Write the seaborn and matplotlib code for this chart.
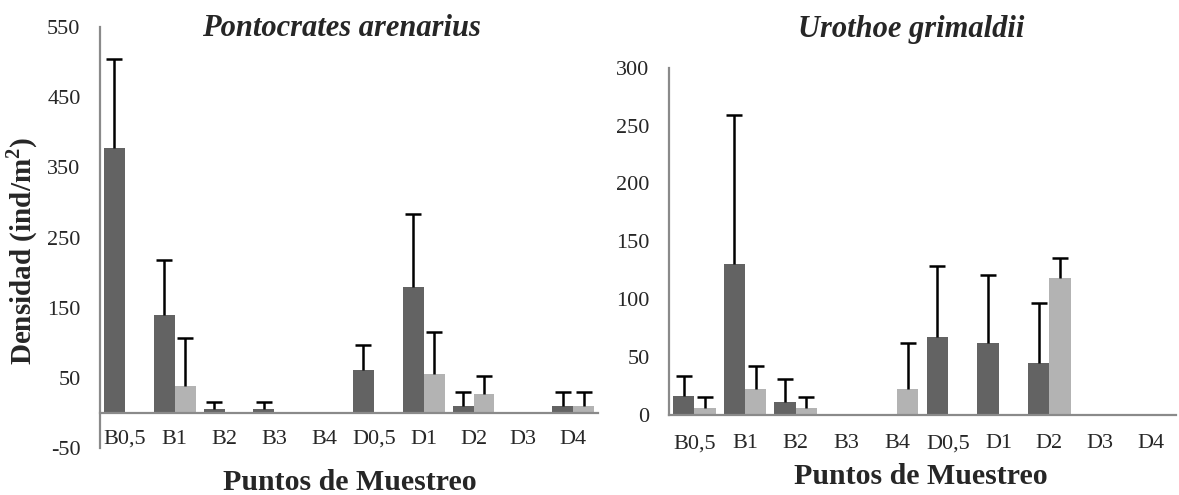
import numpy as np
import pandas as pd
import matplotlib
matplotlib.use("Agg")
import matplotlib.pyplot as plt
import seaborn as sns

categories = ["B0,5", "B1", "B2", "B3", "B4", "D0,5", "D1", "D2", "D3", "D4"]
series_names = ["Serie 1", "Serie 2"]

# Pontocrates arenarius
pa_dark = [378, 140, 5, 5, 0, 61, 180, 10, 0, 10]
pa_dark_err = [127, 78, 10, 10, 0, 36, 103, 20, 0, 20]
pa_light = [0, 39, 0, 0, 0, 0, 56, 27, 0, 10]
pa_light_err = [0, 68, 0, 0, 0, 0, 60, 26, 0, 20]

# Urothoe grimaldii
ug_dark = [16.6, 130, 11, 0, 0, 67.5, 62, 45, 0, 0]
ug_dark_err = [17, 129, 20, 0, 0, 61, 59, 52, 0, 0]
ug_light = [5.5, 22, 5.5, 0, 22, 0, 0, 118.5, 0, 0]
ug_light_err = [10, 20, 10, 0, 40, 0, 0, 17, 0, 0]

sns.set_style("white")
plt.rcParams['font.family'] = ['Liberation Serif', 'DejaVu Serif']
plt.rcParams['mathtext.fontset'] = 'custom'
plt.rcParams['mathtext.bf'] = 'Liberation Serif:bold'
plt.rcParams['mathtext.rm'] = 'Liberation Serif'

DARK = "#636363"
LIGHT = "#b3b3b3"
AXC = "#8a8a8a"

fig = plt.figure(figsize=(11.79, 4.95), dpi=100)
ax1 = fig.add_axes([100 / 1179, 0.095, 498 / 1179, 0.850])
ax2 = fig.add_axes([669 / 1179, 0.162, 507 / 1179, 0.701])


def draw(ax, dark, dark_err, light, light_err, ylim, yticks, xpad):
    df = pd.DataFrame({
        "cat": categories * 2,
        "serie": [series_names[0]] * len(categories) + [series_names[1]] * len(categories),
        "val": list(dark) + list(light),
    })
    sns.barplot(data=df, x="cat", y="val", hue="serie", order=categories,
                hue_order=series_names, palette=[DARK, LIGHT], width=0.84,
                gap=0, errorbar=None, ax=ax, legend=False, saturation=1,
                linewidth=0)
    # error bars (upper only, cap only at the top)
    bars = [p for p in ax.patches if p.get_width() > 0]
    n = len(categories)
    vals = list(dark) + list(light)
    errs = list(dark_err) + list(light_err)
    for p, v, e in zip(bars[:2 * n], vals, errs):
        if e > 0:
            xc = p.get_x() + p.get_width() / 2
            ax.vlines(xc, v, v + e, color="black", linewidth=1.8, zorder=3)
            ax.plot([xc], [v + e], marker="_", markersize=11,
                    markeredgewidth=1.8, color="black", zorder=3)
    ax.set_xlim(-0.5, len(categories) - 0.5)
    ax.set_ylim(*ylim)
    ax.set_yticks(yticks)
    ax.set_yticklabels([str(t) for t in yticks])
    ax.set_xticks(np.arange(len(categories) + 1) - 0.5)
    ax.set_xticklabels([])
    ax.set_xticks(np.arange(len(categories)), minor=True)
    ax.set_xticklabels(categories, minor=True)
    ax.tick_params(axis="x", which="minor", length=0, pad=xpad, labelsize=16)
    ax.tick_params(axis="x", which="major", direction="inout", length=10,
                   width=1.4, color=AXC)
    ax.tick_params(axis="y", direction="out", length=5, width=1.2, color=AXC,
                   pad=9, labelsize=16)
    ax.spines["top"].set_visible(False)
    ax.spines["right"].set_visible(False)
    ax.spines["bottom"].set_position(("data", 0))
    for s in ("left", "bottom"):
        ax.spines[s].set_color(AXC)
        ax.spines[s].set_linewidth(1.6)
    ax.set_xlabel("")
    ax.set_ylabel("")


draw(ax1, pa_dark, pa_dark_err, pa_light, pa_light_err, (-50, 550),
     [-50, 50, 150, 250, 350, 450, 550], 12)
draw(ax2, ug_dark, ug_dark_err, ug_light, ug_light_err, (0, 300),
     [0, 50, 100, 150, 200, 250, 300], 14)

fig.text(341 / 1179, 1 - 29 / 495, "Pontocrates arenarius", ha="center",
         va="center", fontsize=22, fontweight="bold", fontstyle="italic")
fig.text(911 / 1179, 1 - 30 / 495, "Urothoe grimaldii", ha="center",
         va="center", fontsize=22, fontweight="bold", fontstyle="italic")
fig.text(350 / 1179, 1 - 482 / 495, "Puntos de Muestreo", ha="center",
         va="center", fontsize=21.5, fontweight="bold")
fig.text(921 / 1179, 1 - 477 / 495, "Puntos de Muestreo", ha="center",
         va="center", fontsize=21.5, fontweight="bold")
fig.text(22 / 1179, 1 - 251 / 495, "Densidad (ind/m$^\\mathbf{2}$)", ha="center",
         va="center", rotation=90, fontsize=21, fontweight="bold")

fig.savefig("out.png", dpi=100)
